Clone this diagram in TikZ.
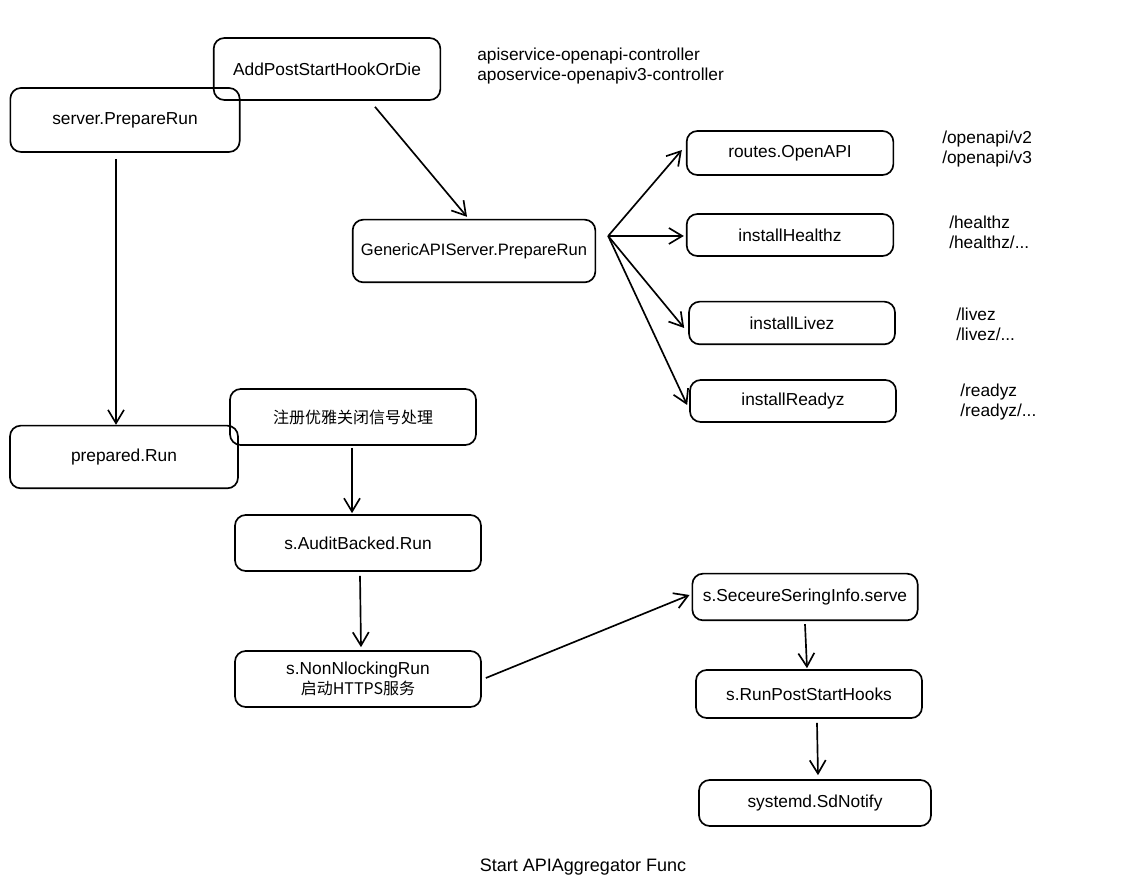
\documentclass[tikz,border=0pt]{standalone}
\usepackage{fontspec}
\setmainfont{Liberation Sans}
\newfontfamily\cjk{Noto Sans CJK SC}
\usetikzlibrary{arrows.meta,calc}
\begin{document}
\begin{tikzpicture}[x=0.75pt,y=-0.75pt,
  box/.style={draw, line width=1.25pt, rounded corners=8pt, inner sep=0pt, align=center, font=\fontsize{13}{15}\selectfont},
  arr/.style={-{Straight Barb[length=10pt,width=12pt]}, line width=1.25pt},
  lbl/.style={anchor=west, align=left, inner sep=0pt, font=\fontsize{13}{15}\selectfont}]
\useasboundingbox (0,0) rectangle (1122,887);

\node[box, minimum width=170pt, minimum height=46.5pt] (addpost) at (327,69) {AddPostStartHookOrDie};
\node[box, minimum width=172pt, minimum height=48pt] (server) at (125,120) {server.PrepareRun};
\node[box, minimum width=182pt, minimum height=47pt, font=\fontsize{12.4}{15}\selectfont] (generic) at (474,251) {GenericAPIServer.PrepareRun};
\node[box, minimum width=155pt, minimum height=33pt] (routes) at (790,153) {routes.OpenAPI};
\node[box, minimum width=155pt, minimum height=31.5pt] (healthz) at (790,235) {installHealthz};
\node[box, minimum width=154.5pt, minimum height=32pt] (livez) at (792,323) {installLivez};
\node[box, minimum width=154.5pt, minimum height=31.5pt] (readyz) at (793,401) {installReadyz};
\node[box, minimum width=184.5pt, minimum height=42pt, font=\cjk\fontsize{12}{15}\selectfont] (reg) at (353,417) {注册优雅关闭信号处理};
\node[box, minimum width=171pt, minimum height=47pt] (prepared) at (124,457) {prepared.Run};
\node[box, minimum width=184.5pt, minimum height=42pt] (audit) at (358,543) {s.AuditBacked.Run};
\node[box, minimum width=184.5pt, minimum height=42pt] (nonblk) at (358,679) {s.NonNlockingRun\\{\cjk\fontsize{12}{15}\selectfont 启动HTTPS服务}};
\node[box, minimum width=169pt, minimum height=35pt] (secure) at (805,597) {s.SeceureSeringInfo.serve};
\node[box, minimum width=169.5pt, minimum height=36pt] (runpost) at (809,694) {s.RunPostStartHooks};
\node[box, minimum width=174pt, minimum height=34.5pt] (sd) at (815,803) {systemd.SdNotify};

\node[lbl] (ctl) at (477,66) {apiservice-openapi-controller\\aposervice-openapiv3-controller};
\node[lbl] (lroutes) at (942,149) {/openapi/v2\\/openapi/v3};
\node[lbl] (lhealth) at (949,232) {/healthz\\/healthz/...};
\node[lbl] (llivez) at (956,324) {/livez\\/livez/...};
\node[lbl] (lready) at (960,402) {/readyz\\/readyz/...};
\node[font=\fontsize{13.5}{15}\selectfont] (title) at (583,867) {Start APIAggregator Func};

\coordinate (gfan) at ($(generic.east)+(12,-15)$);
\draw[arr] ($(addpost.south)+(48,6)$) -- ($(generic.north)+(-7,-2)$);
\draw[arr] ($(server.south)+(-9,6)$) -- ($(prepared.north)+(-8,0)$);
\draw[arr] (gfan) -- ($(routes.west)+(-4,-3)$);
\draw[arr] (gfan) -- ($(healthz.west)+(-2,1)$);
\draw[arr] (gfan) -- ($(livez.west)+(-4,5)$);
\draw[arr] (gfan) -- ($(readyz.west)+(-2,4)$);
\draw[arr] ($(reg.south)+(-1,2)$) -- ($(audit.north)+(-6,-1)$);
\draw[arr] ($(audit.south)+(2,4)$) -- ($(nonblk.north)+(3,-3)$);
\draw[arr] ($(nonblk.east)+(4,-1)$) -- ($(secure.west)+(-2,-2)$);
\draw[arr] ($(secure.south)+(0,3)$) -- ($(runpost.north)+(-2,-1)$);
\draw[arr] ($(runpost.south)+(8,4)$) -- ($(sd.north)+(3,-4)$);
\end{tikzpicture}
\end{document}
